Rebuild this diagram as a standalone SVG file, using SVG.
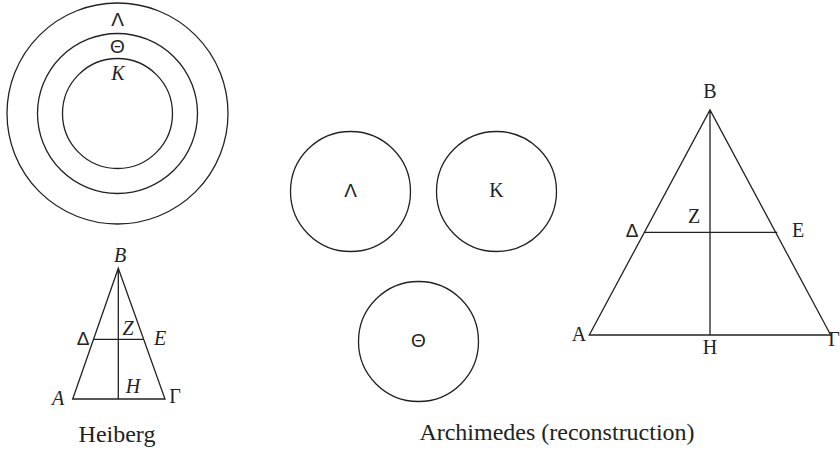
<svg xmlns="http://www.w3.org/2000/svg" width="840" height="451" viewBox="0 0 840 451">
<style>
.s{fill:none;stroke:#222;stroke-width:1.3}
text{font-family:"Liberation Serif","Times New Roman",serif;fill:#222;text-anchor:middle}
.l{font-size:20px}
.i{font-style:italic}
.g{font-family:"Liberation Sans",Arial,sans-serif;font-size:19px}
.c{font-size:24px}
</style>
<rect width="840" height="451" fill="#fff"/>
<g id="heiberg-circles">
<circle class="s" cx="117.5" cy="113.5" r="110.5"/>
<circle class="s" cx="117.5" cy="113.5" r="80"/>
<circle class="s" cx="117.5" cy="113.5" r="55"/>
<text class="g" x="117.5" y="26">Λ</text>
<text class="g" x="117.5" y="53">Θ</text>
<text class="l i" x="118" y="80">K</text>
</g>
<g id="heiberg-triangle">
<path class="s" d="M72.7,399 L118.3,268.3 L165,399 Z M118.3,268.3 V399 M93.5,339.3 H144"/>
<text class="l i" x="120" y="262">B</text>
<text class="g" x="83" y="345">Δ</text>
<text class="l i" x="128" y="335">Z</text>
<text class="l i" x="160" y="345">E</text>
<text class="l i" x="58" y="405">A</text>
<text class="l i" x="133" y="393">H</text>
<text class="l" x="175" y="403">Γ</text>
</g>
<g id="archimedes-circles">
<circle class="s" cx="350.5" cy="191.5" r="60"/>
<circle class="s" cx="496.5" cy="191.5" r="60"/>
<circle class="s" cx="418.5" cy="341.5" r="60"/>
<text class="g" x="350.5" y="197">Λ</text>
<text class="l" x="496.5" y="197">K</text>
<text class="g" x="418.5" y="347">Θ</text>
</g>
<g id="archimedes-triangle">
<path class="s" d="M589.3,335 L710,110 L830.7,335 Z M710,110 V335 M644.4,232.3 H777.3"/>
<text class="l" x="710" y="98">B</text>
<text class="l" x="694" y="223">Z</text>
<text class="g" x="632" y="237">Δ</text>
<text class="l" x="798" y="237">E</text>
<text class="l" x="579" y="341">A</text>
<text class="l" x="710" y="354">H</text>
<text class="l" x="834" y="346">Γ</text>
</g>
<g id="captions">
<text class="c" x="117" y="442">Heiberg</text>
<text class="c" x="557" y="440">Archimedes (reconstruction)</text>
</g>
<g id="connectors"/>
</svg>
